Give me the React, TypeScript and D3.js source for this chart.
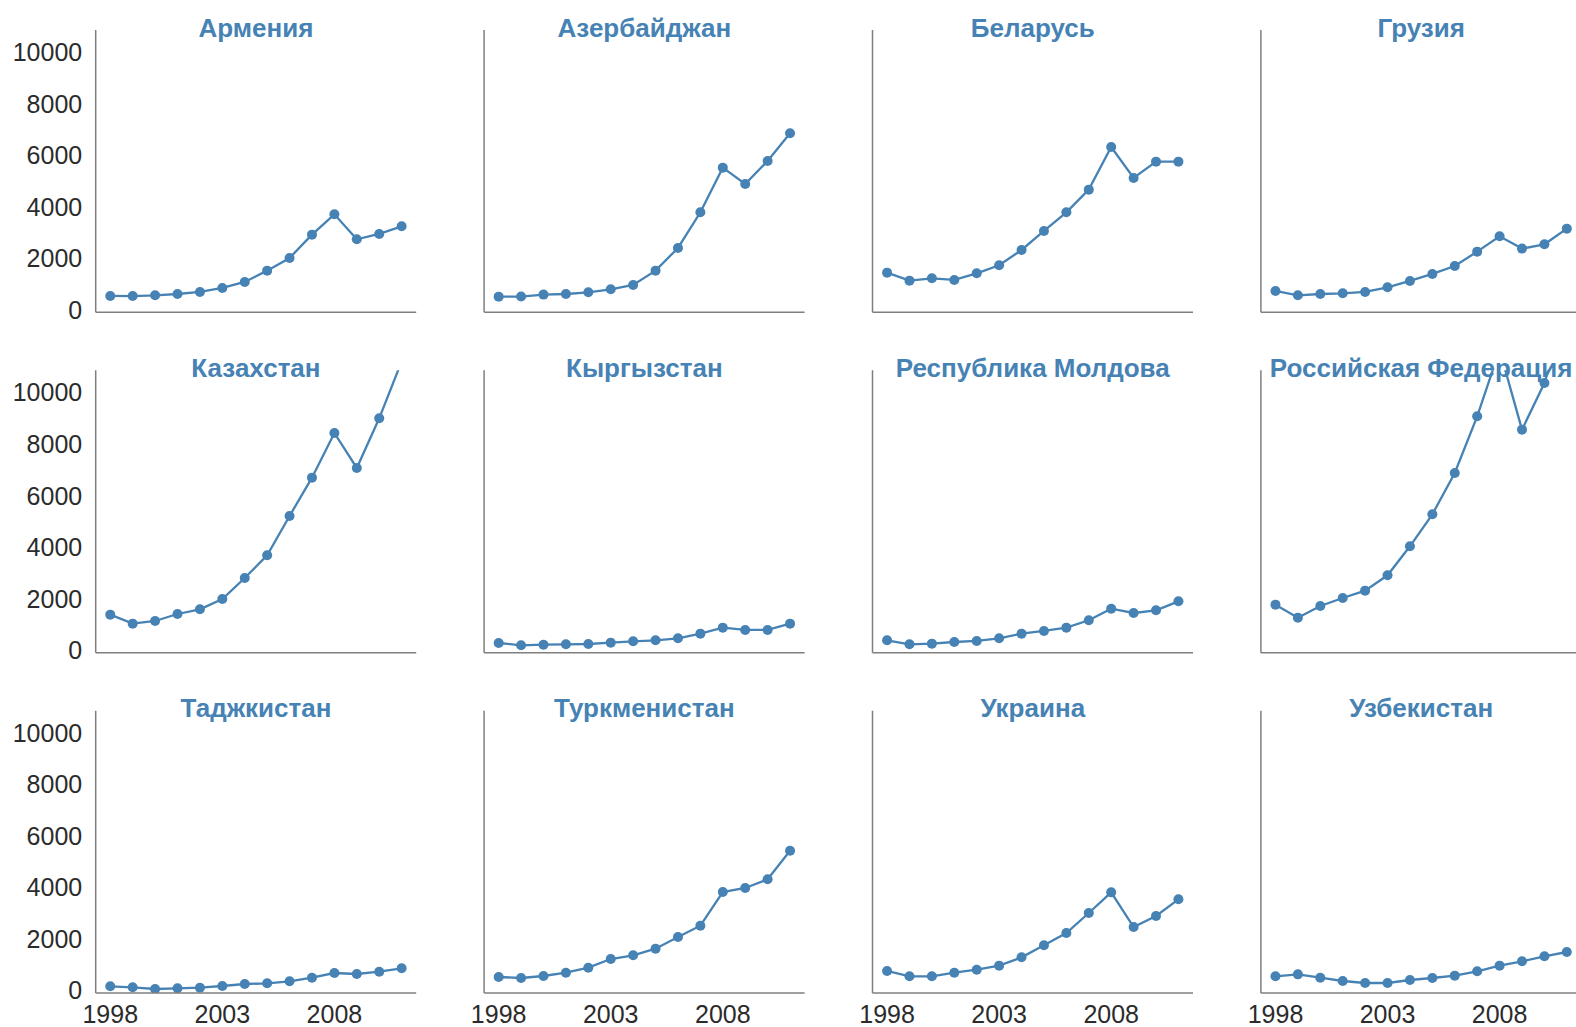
import React from 'react';
import * as d3 from 'd3';

const years = [1998, 1999, 2000, 2001, 2002, 2003, 2004, 2005, 2006, 2007, 2008, 2009, 2010, 2011];

const countries = [
  'Армения', 'Азербайджан', 'Беларусь', 'Грузия',
  'Казахстан', 'Кыргызстан', 'Республика Молдова', 'Российская Федерация',
  'Таджкистан', 'Туркменистан', 'Украина', 'Узбекистан',
];

const armenia = [634, 630, 660, 711, 789, 944, 1177, 1617, 2108, 3014, 3803, 2833, 3040, 3337];
const azerbaijan = [608, 610, 686, 711, 776, 893, 1061, 1617, 2496, 3881, 5614, 4980, 5872, 6946];
const belarus = [1539, 1229, 1319, 1255, 1513, 1824, 2419, 3156, 3881, 4760, 6416, 5213, 5847, 5847];
const georgia = [828, 660, 711, 737, 789, 970, 1216, 1488, 1798, 2354, 2949, 2471, 2639, 3247];
const kazakhstan = [1475, 1125, 1229, 1500, 1682, 2083, 2897, 3777, 5303, 6791, 8524, 7166, 9093, 11300];
const kyrgyzstan = [375, 285, 310, 323, 336, 388, 440, 479, 556, 737, 970, 880, 880, 1125];
const moldova = [479, 323, 349, 414, 453, 556, 737, 841, 970, 1255, 1707, 1539, 1643, 1992];
const russia = [1863, 1358, 1811, 2121, 2406, 3001, 4126, 5368, 6972, 9171, 11750, 8654, 10464, 13300];
const tajikistan = [259, 220, 155, 181, 207, 272, 349, 375, 453, 595, 776, 737, 828, 957];
const turkmenistan = [621, 582, 660, 789, 983, 1319, 1462, 1720, 2173, 2613, 3919, 4075, 4411, 5523];
const ukraine = [854, 647, 647, 789, 905, 1061, 1384, 1850, 2328, 3104, 3906, 2561, 2988, 3635];
const uzbekistan = [647, 724, 595, 466, 388, 388, 504, 582, 673, 841, 1061, 1229, 1423, 1591];

const seriesList = [
  armenia, azerbaijan, belarus, georgia,
  kazakhstan, kyrgyzstan, moldova, russia,
  tajikistan, turkmenistan, ukraine, uzbekistan,
];

const yTicks = [0, 2000, 4000, 6000, 8000, 10000];
const xTicks = [1998, 2003, 2008];

export default function App() {
  const W = 1576;
  const H = 1027;
  const colX0 = 95.7;
  const colStep = 388.4;
  const rowY0 = 30;
  const rowStep = 340.35;
  const pw = 320.5;
  const ph = 282.3;
  const blue = '#4682b4';
  const font = '"Liberation Sans", Arial, Helvetica, sans-serif';

  const x = d3.scaleLinear().domain([1997.35, 2011.65]).range([0, pw]);
  const y = d3.scaleLinear().domain([0, 10955]).range([ph, 0]);
  const line = d3
    .line<number>()
    .x((_, i) => x(years[i]))
    .y((d) => y(d));

  return (
    <svg
      width={W}
      height={H}
      style={{ position: 'absolute', left: 0, top: 0, background: '#fff' }}
      fontFamily={font}
    >
      <rect x={0} y={0} width={W} height={H} fill="#fff" />
      {seriesList.map((vals, k) => {
        const r = Math.floor(k / 4);
        const c = k % 4;
        const ox = colX0 + c * colStep;
        const oy = rowY0 + r * rowStep;
        const clipId = `clip-${k}`;
        return (
          <g key={k} transform={`translate(${ox},${oy})`}>
            <defs>
              <clipPath id={clipId}>
                <rect x={0} y={0} width={pw} height={ph} />
              </clipPath>
            </defs>
            <g clipPath={`url(#${clipId})`}>
              <path d={line(vals) || ''} fill="none" stroke={blue} strokeWidth={2.3} />
              {vals.map((v, i) => (
                <circle key={i} cx={x(years[i])} cy={y(v)} r={5} fill={blue} />
              ))}
            </g>
            <line x1={0} y1={0} x2={0} y2={ph} stroke="#7f7f7f" strokeWidth={1.5} />
            <line x1={0} y1={ph} x2={pw} y2={ph} stroke="#7f7f7f" strokeWidth={1.5} />
            {c === 0 &&
              yTicks.map((t) => (
                <text
                  key={t}
                  x={-13.5}
                  y={y(t) - 2.5}
                  textAnchor="end"
                  dominantBaseline="central"
                  fontSize={25}
                  fill="#2b2b2b"
                >
                  {t}
                </text>
              ))}
            {r === 2 &&
              xTicks.map((t) => (
                <text
                  key={t}
                  x={x(t)}
                  y={ph + 30.5}
                  textAnchor="middle"
                  fontSize={25}
                  fill="#2b2b2b"
                >
                  {t}
                </text>
              ))}
            <text
              x={pw / 2}
              y={6.5}
              textAnchor="middle"
              fontSize={26}
              fontWeight="bold"
              fill={blue}
            >
              {countries[k]}
            </text>
          </g>
        );
      })}
    </svg>
  );
}
